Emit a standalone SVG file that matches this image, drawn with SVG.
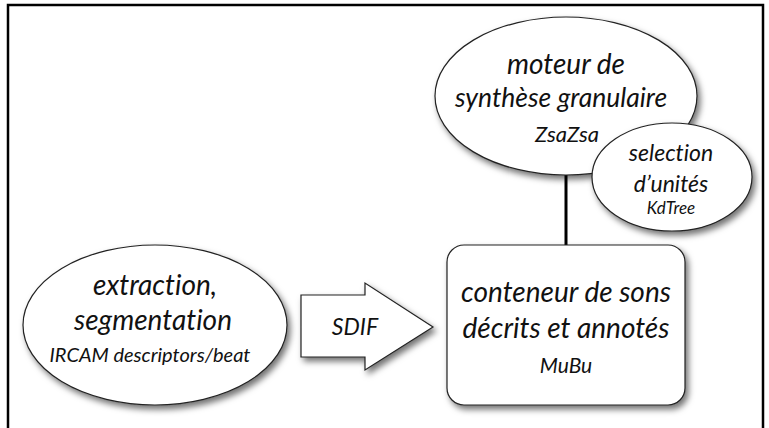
<svg xmlns="http://www.w3.org/2000/svg" width="769" height="428" viewBox="0 0 769 428">
  <defs>
    <filter id="sh" x="-20%" y="-20%" width="150%" height="150%">
      <feDropShadow dx="3" dy="4" stdDeviation="3" flood-color="#000" flood-opacity="0.55"/>
    </filter>
  </defs>
  <style>
    .shape { fill: #ffffff; stroke: #222222; stroke-width: 1.2; filter: url(#sh); }
    .t { font-family: "Lato", "Liberation Sans", sans-serif; font-style: italic; fill: #111111; text-anchor: middle; font-variant-ligatures: none; }
    .big { font-size: 28px; }
    .mid { font-size: 23px; }
    .sub { font-size: 21px; }
    .small { font-size: 17px; }
    .frame { stroke: #000000; stroke-width: 2.5; fill: none; }
    .conn { stroke: #000000; stroke-width: 3; fill: none; }
  </style>
  <rect x="0" y="0" width="769" height="428" fill="#ffffff"/>
  <g id="frame">
    <polyline class="frame" points="8,428 8,5 763,5 763,428"/>
  </g>
  <g id="connectors">
    <line class="conn" x1="566" y1="170" x2="566" y2="246"/>
  </g>
  <g id="moteur">
    <ellipse class="shape" cx="566" cy="96" rx="131" ry="79"/>
    <text class="t big" x="566" y="74">moteur de</text>
    <text class="t big" x="561" y="107" style="font-size:26.5px">synthèse granulaire</text>
    <text class="t sub" x="567" y="142" style="font-size:22px">ZsaZsa</text>
  </g>
  <g id="selection">
    <ellipse class="shape" cx="672" cy="177" rx="80" ry="54"/>
    <text class="t mid" x="671" y="161">selection</text>
    <text class="t mid" x="671" y="192">d’unités</text>
    <text class="t small" x="671" y="214">KdTree</text>
  </g>
  <g id="conteneur">
    <rect class="shape" x="447" y="245" width="238" height="160" rx="17" ry="17"/>
    <text class="t big" x="566" y="302">conteneur de sons</text>
    <text class="t big" x="566" y="338">décrits et annotés</text>
    <text class="t sub" x="566" y="373">MuBu</text>
  </g>
  <g id="extraction">
    <ellipse class="shape" cx="155" cy="325" rx="132" ry="80"/>
    <text class="t big" x="155" y="295">extraction,</text>
    <text class="t big" x="153" y="330">segmentation</text>
    <text class="t sub" x="150" y="362" style="font-size:20px">IRCAM descriptors/beat</text>
  </g>
  <g id="sdif">
    <polygon class="shape" points="301,295 365,295 365,283 433,327 365,370 365,357 301,357"/>
    <text class="t mid" x="355" y="335">SDIF</text>
  </g>
</svg>
